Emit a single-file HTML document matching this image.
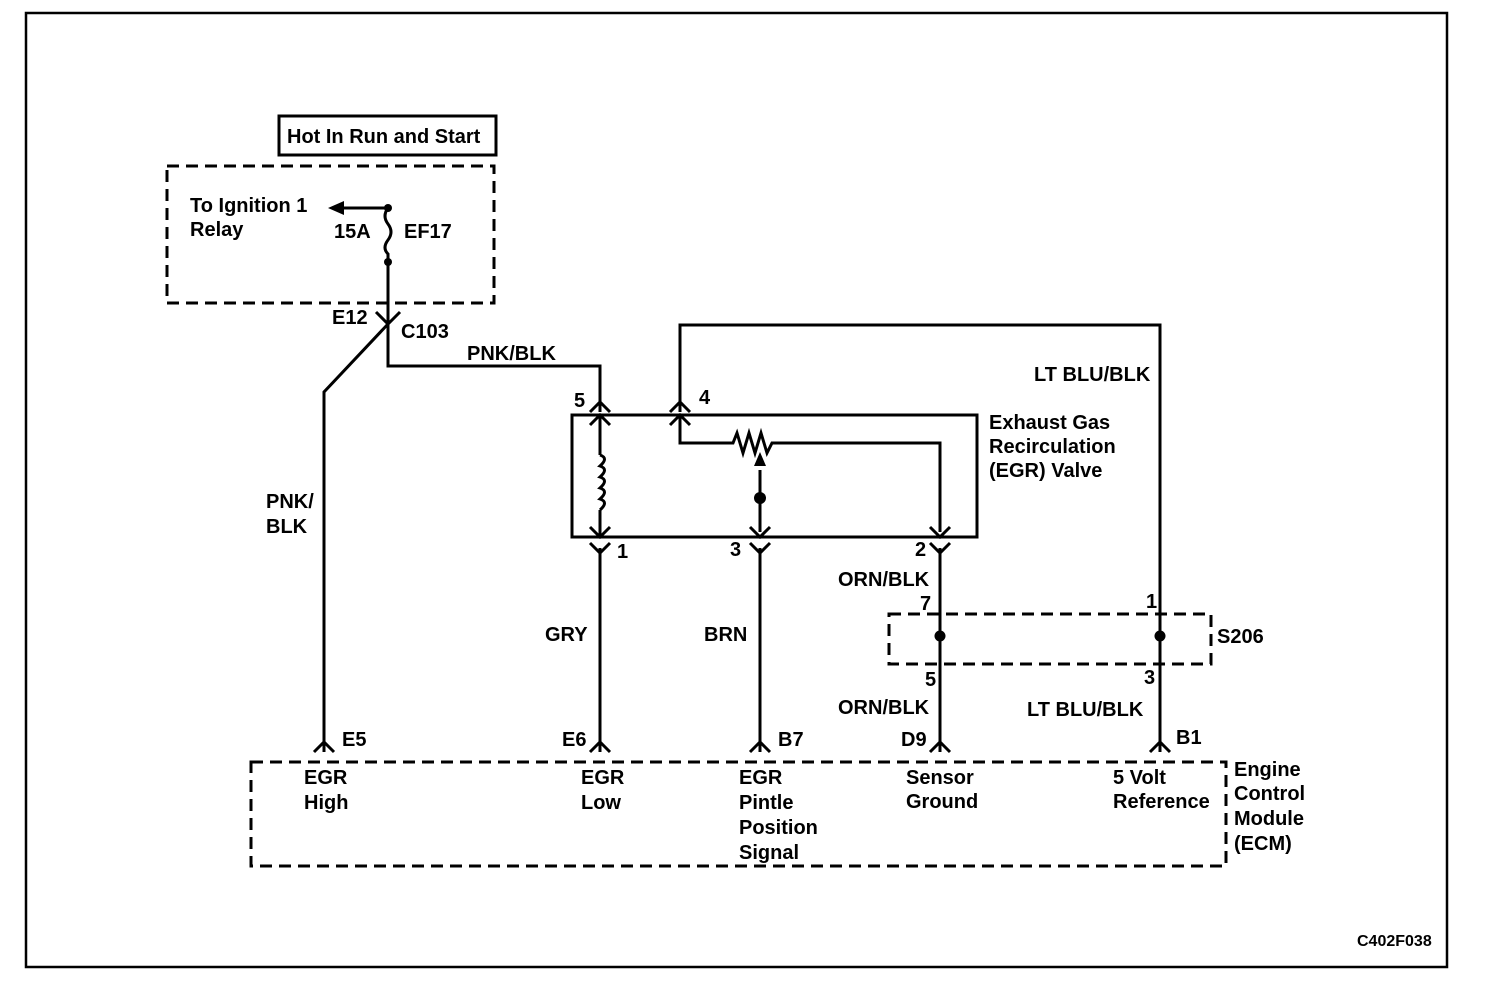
<!DOCTYPE html>
<html><head><style>
body{margin:0;background:#fff}
svg{display:block}
text{font-family:"Liberation Sans",sans-serif;font-size:20px;font-weight:bold;fill:#000}
</style></head><body>
<svg width="1504" height="988" viewBox="0 0 1504 988" xmlns="http://www.w3.org/2000/svg">
<rect x="26" y="13" width="1421" height="954" fill="none" stroke="#000" stroke-width="2.5"/>
<rect x="279" y="116" width="217" height="39" fill="none" stroke="#000" stroke-width="3"/>
<text x="287" y="143">Hot In Run and Start</text>
<g fill="none" stroke="#000" stroke-width="3" stroke-dasharray="12,7">
<rect x="167" y="166" width="327" height="137"/>
<rect x="889" y="614" width="322" height="50"/>
<rect x="251" y="762" width="975" height="104"/>
</g>
<g fill="none" stroke="#000" stroke-width="3">
<rect x="572" y="415" width="405" height="122"/>
<path d="M388 208 H340"/>
<path d="M388 208 q-6 8 0 16 q6 8 0 16 q-6 8 0 14 V262"/>
<path d="M388 262 V366 H600 V412"/>
<path d="M376 312 L388 324 L400 312"/>
<path d="M388 324 L324 392 V752"/>
<path d="M680 412 V325 H1160 V752"/>
<path d="M600 415 V455 M600 510 V537"/>
<path d="M600 455 q9 3 0 11 q9 3 0 11 q9 3 0 11 q9 3 0 11 q9 3 0 11"/>
<path d="M680 415 V443 H733 l4 -10 l6 20 l6 -20 l6 20 l6 -20 l6 20 l5 -10 H940 V532"/>
<path d="M760 470 V532"/>
<path d="M600 548 V752 M760 548 V752 M940 548 V752"/>
<path d="M590 412 l10 -10 l10 10 M670 412 l10 -10 l10 10"/>
<path d="M590 425 l10 -10 l10 10 M670 425 l10 -10 l10 10"/>
<path d="M590 527 l10 10 l10 -10 M750 527 l10 10 l10 -10 M930 527 l10 10 l10 -10"/>
<path d="M590 543 l10 10 l10 -10 M750 543 l10 10 l10 -10 M930 543 l10 10 l10 -10"/>
<path d="M314 752 l10 -10 l10 10 M590 752 l10 -10 l10 10 M750 752 l10 -10 l10 10 M930 752 l10 -10 l10 10 M1150 752 l10 -10 l10 10"/>
</g>
<polygon points="328,208 344,201 344,215" fill="#000"/>
<polygon points="760,452 754,466 766,466" fill="#000"/>
<g fill="#000">
<circle cx="388" cy="208" r="4"/><circle cx="388" cy="262" r="4"/>
<circle cx="760" cy="498" r="6"/><circle cx="940" cy="636" r="5.5"/><circle cx="1160" cy="636" r="5.5"/>
</g>
<text x="190" y="212">To Ignition 1</text>
<text x="190" y="236">Relay</text>
<text x="334" y="238">15A</text>
<text x="404" y="238">EF17</text>
<text x="332" y="324">E12</text>
<text x="401" y="338">C103</text>
<text x="467" y="360">PNK/BLK</text>
<text x="1034" y="381">LT BLU/BLK</text>
<text x="574" y="407">5</text>
<text x="699" y="404">4</text>
<text x="989" y="429">Exhaust Gas</text>
<text x="989" y="453">Recirculation</text>
<text x="989" y="477">(EGR) Valve</text>
<text x="266" y="508">PNK/</text>
<text x="266" y="533">BLK</text>
<text x="617" y="558">1</text>
<text x="730" y="556">3</text>
<text x="915" y="556">2</text>
<text x="838" y="586">ORN/BLK</text>
<text x="920" y="610">7</text>
<text x="1146" y="608">1</text>
<text x="545" y="641">GRY</text>
<text x="704" y="641">BRN</text>
<text x="1217" y="643">S206</text>
<text x="925" y="686">5</text>
<text x="1144" y="684">3</text>
<text x="838" y="714">ORN/BLK</text>
<text x="1027" y="716">LT BLU/BLK</text>
<text x="342" y="746">E5</text>
<text x="562" y="746">E6</text>
<text x="778" y="746">B7</text>
<text x="901" y="746">D9</text>
<text x="1176" y="744">B1</text>
<text x="304" y="784">EGR</text>
<text x="304" y="809">High</text>
<text x="581" y="784">EGR</text>
<text x="581" y="809">Low</text>
<text x="739" y="784">EGR</text>
<text x="739" y="809">Pintle</text>
<text x="739" y="834">Position</text>
<text x="739" y="859">Signal</text>
<text x="906" y="784">Sensor</text>
<text x="906" y="808">Ground</text>
<text x="1113" y="784">5 Volt</text>
<text x="1113" y="808">Reference</text>
<text x="1234" y="776">Engine</text>
<text x="1234" y="800">Control</text>
<text x="1234" y="825">Module</text>
<text x="1234" y="850">(ECM)</text>
<text x="1357" y="946" style="font-size:16px">C402F038</text>
</svg>
</body></html>
